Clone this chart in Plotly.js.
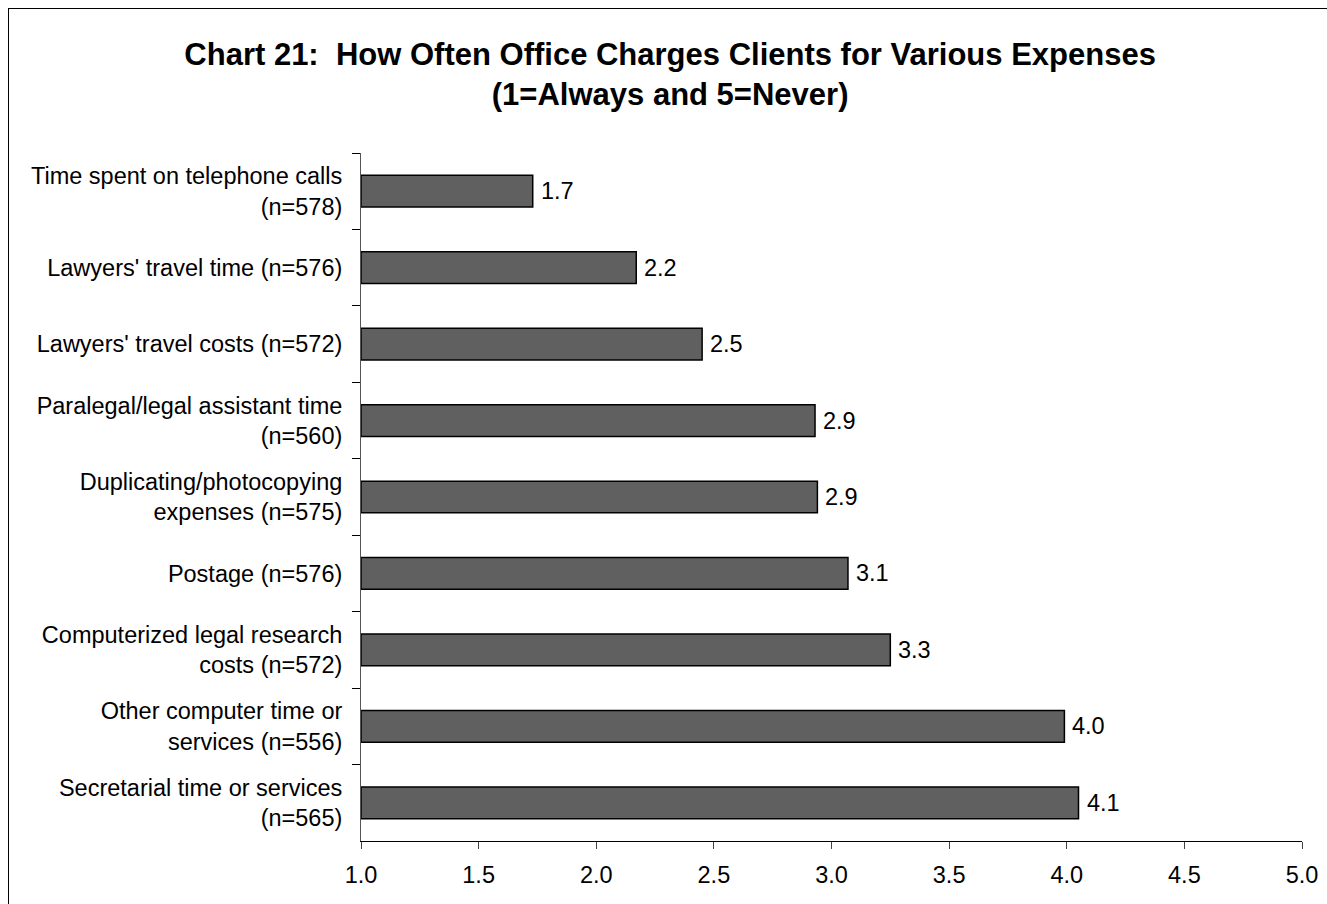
<!DOCTYPE html>
<html>
<head>
<meta charset="utf-8">
<script src="https://cdn.plot.ly/plotly-3.0.1.min.js"></script>
<style>
  html, body { margin: 0; padding: 0; background: #fff; }
  #wrap { position: relative; width: 1327px; height: 904px; overflow: hidden; }
  #chart { position: absolute; left: 0; top: 0; width: 1327px; height: 904px; }
  #frame { position: absolute; left: 8px; top: 8px; width: 1330px; height: 910px;
           border: 1.5px solid #000; pointer-events: none; box-sizing: border-box; }
</style>
</head>
<body>
<div id="wrap">
  <div id="chart"></div>
  <div id="frame"></div>
</div>
<script>
const categories = [
  "Time spent on telephone calls<br>(n=578)",
  "Lawyers' travel time (n=576)",
  "Lawyers' travel costs (n=572)",
  "Paralegal/legal assistant time<br>(n=560)",
  "Duplicating/photocopying<br>expenses (n=575)",
  "Postage (n=576)",
  "Computerized legal research<br>costs (n=572)",
  "Other computer time or<br>services (n=556)",
  "Secretarial time or services<br>(n=565)"
];
const values = [1.73, 2.17, 2.45, 2.93, 2.94, 3.07, 3.25, 3.99, 4.05];
const valueLabels = ["1.7", "2.2", "2.5", "2.9", "2.9", "3.1", "3.3", "4.0", "4.1"];
const xTickVals = [1.0, 1.5, 2.0, 2.5, 3.0, 3.5, 4.0, 4.5, 5.0];
const xTickText = ["1.0", "1.5", "2.0", "2.5", "3.0", "3.5", "4.0", "4.5", "5.0"];

const FONT = "'Liberation Sans', Arial, sans-serif";
const AXIS_MIN = 1;

const trace = {
  type: "bar",
  orientation: "h",
  y: categories,
  x: values.map(v => v - AXIS_MIN),
  base: AXIS_MIN,
  marker: { color: "#606060", line: { color: "#000", width: 1.5 } },
  hoverinfo: "skip"
};

const annotations = values.map((v, i) => ({
  x: v,
  y: categories[i],
  xref: "x",
  yref: "y",
  text: valueLabels[i],
  showarrow: false,
  xanchor: "left",
  yanchor: "middle",
  xshift: 6,
  font: { family: FONT, size: 23.5, color: "#000" }
}));

const layout = {
  width: 1327,
  height: 904,
  paper_bgcolor: "#fff",
  plot_bgcolor: "#fff",
  margin: { l: 361, r: 25, t: 153, b: 63, pad: 0 },
  bargap: 0.585,
  showlegend: false,
  font: { family: FONT, size: 23.5, color: "#000" },
  annotations: annotations,
  title: {
    text: "<b>Chart 21:  How Often Office Charges Clients for Various Expenses<br>(1=Always and 5=Never)</b>",
    font: { family: FONT, size: 31, color: "#000" },
    x: 0.505,
    xref: "container",
    xanchor: "center",
    y: 1 - 65 / 904,
    yref: "container",
    yanchor: "top"
  },
  xaxis: {
    range: [1, 5],
    tickvals: xTickVals,
    ticktext: xTickText,
    ticks: "outside",
    ticklen: 7,
    tickcolor: "#444",
    tickwidth: 1,
    ticklabelstandoff: 6,
    showline: true,
    linecolor: "#000",
    linewidth: 1,
    showgrid: false,
    zeroline: false,
    tickfont: { family: FONT, size: 23.5, color: "#000" },
    fixedrange: true
  },
  yaxis: {
    type: "category",
    autorange: "reversed",
    ticks: "outside",
    tickson: "boundaries",
    ticklen: 8,
    tickcolor: "#000",
    tickwidth: 1,
    ticklabelstandoff: 13,
    showline: true,
    linecolor: "#555",
    linewidth: 1,
    showgrid: false,
    zeroline: false,
    tickfont: { family: FONT, size: 23.5, color: "#000" },
    fixedrange: true
  }
};

Plotly.newPlot("chart", [trace], layout, { displayModeBar: false, staticPlot: true });
</script>
</body>
</html>
